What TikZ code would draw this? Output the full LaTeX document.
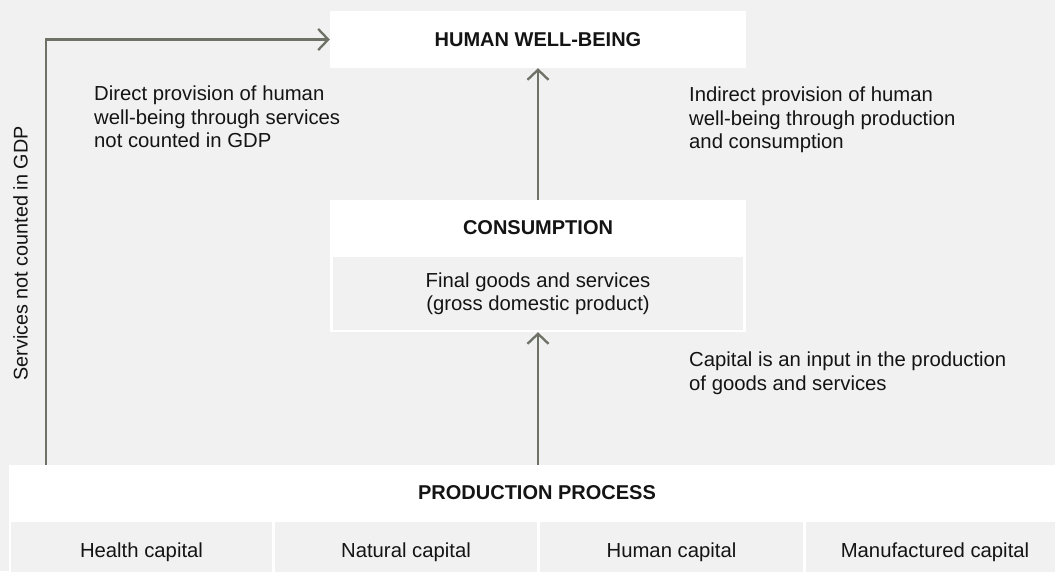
\documentclass[tikz,border=0pt]{standalone}
\usepackage{fontspec}
\setmainfont{Liberation Sans}
\usetikzlibrary{arrows.meta}
\definecolor{bg}{RGB}{241,241,241}
\definecolor{arrowc}{RGB}{110,113,102}
\definecolor{txt}{RGB}{20,20,20}
\tikzset{
  body/.style={font=\fontsize{20.3}{23.3}\selectfont, text=txt},
  titlefont/.style={font=\fontsize{20}{24}\selectfont\bfseries, text=txt},
  whitebox/.style={fill=white, draw=none, rectangle, inner sep=0pt},
  graybox/.style={fill=bg, draw=none, rectangle, inner sep=0pt},
  cell/.style={graybox, body, minimum width=262pt, minimum height=60pt, text height=14.5pt, text depth=4pt},
  arr/.style={draw=arrowc, line width=2.3pt, -{Straight Barb[length=10pt,width=21pt,line width=2.3pt]}},
  note/.style={body, align=left, inner sep=0pt, anchor=north west},
}
\begin{document}
\begin{tikzpicture}[x=1pt,y=-1pt]
\fill[bg] (0,0) rectangle (1055,571);
\useasboundingbox (0,0) rectangle (1055,571);
\clip (0,0) rectangle (1055,571);

% Human well-being
\node[whitebox, titlefont, minimum width=416pt, minimum height=57pt] (hwb) at (538,39.5) {HUMAN WELL-BEING};

% Consumption
\node[whitebox, minimum width=416pt, minimum height=132pt] (cons) at (538,266) {};
\node[titlefont, inner sep=0pt] (constitle) at (538,228) {CONSUMPTION};
\node[graybox, body, align=center, minimum width=410pt, minimum height=73pt] (consinner) at (538,293.5)
  {Final goods and services\\(gross domestic product)};

% Production process
\node[whitebox, minimum width=1054pt, minimum height=120pt] (prod) at (536,525) {};
\node[titlefont, inner sep=0pt] (prodtitle) at (537,492.5) {PRODUCTION PROCESS};
\node[cell, minimum width=261pt] (c1) at (141.5,552) {Health capital};
\node[cell] (c2) at (406,552) {Natural capital};
\node[cell, minimum width=263pt] (c3) at (671.5,552) {Human capital};
\node[cell, minimum width=258pt] (c4) at (935,552) {Manufactured capital};

% Connectors
\coordinate (sidestart) at (46,465);
\draw[arr] (cons.north) -- (hwb.south);
\draw[arr] (cons.south |- prod.north) -- (cons.south);
\draw[arr] (sidestart) |- (hwb.west);

% Labels
\node[body, font=\fontsize{19.8}{23.3}\selectfont, rotate=90, inner sep=0pt] (sidelabel) at (20.5,253.5) {Services not counted in GDP};
\node[note] (direct) at (94,86) {Direct provision of human\\well-being through services\\not counted in GDP};
\node[note] (indirect) at (689,87) {Indirect provision of human\\well-being through production\\and consumption};
\node[note] (capital) at (689,352) {Capital is an input in the production\\of goods and services};
\end{tikzpicture}
\end{document}
